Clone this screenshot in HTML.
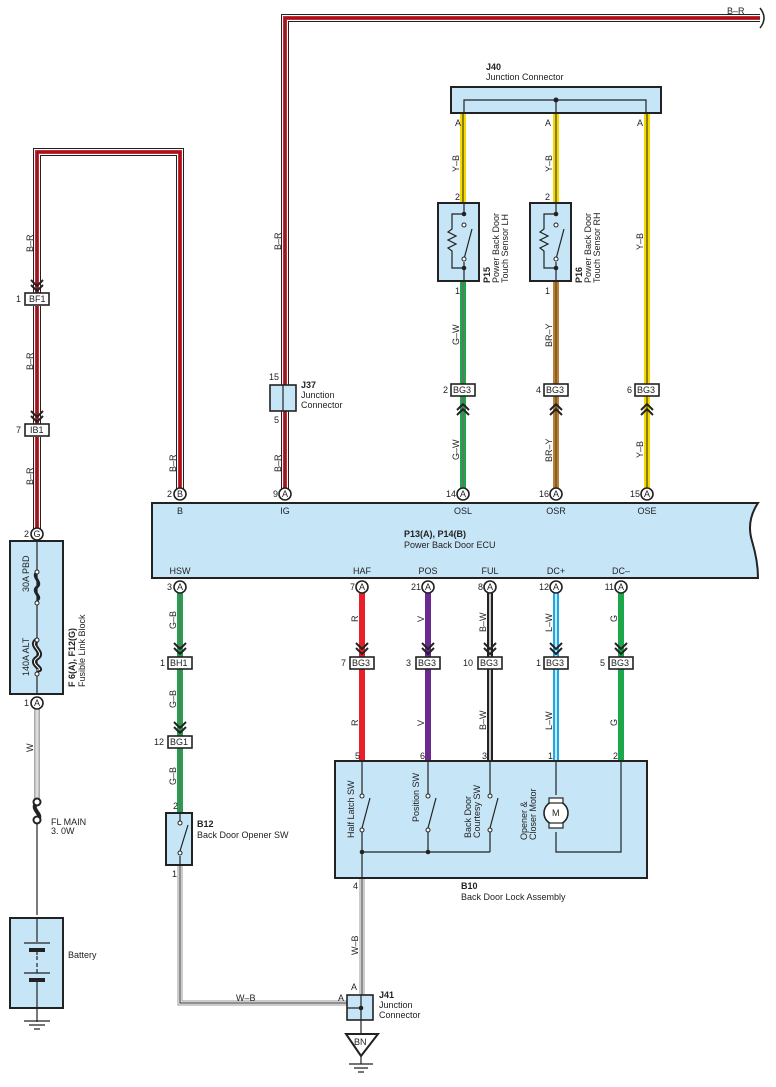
<!DOCTYPE html>
<html><head><meta charset="utf-8"><style>
html,body{margin:0;padding:0;background:#fff}
svg{display:block}
text{font-family:"Liberation Sans",sans-serif;font-size:9px;fill:#222}
.b{font-weight:bold}
.box{fill:#c6e6f8;stroke:#222;stroke-width:2}
.cn{fill:#fff;stroke:#222;stroke-width:1.6}
.ln{fill:none;stroke:#222;stroke-width:1.2}
.e{fill:none;stroke:#222;stroke-width:8}
.w{fill:none;stroke:#fff;stroke-width:6}
.c3{fill:none;stroke-width:4}
.c6{fill:none;stroke-width:6}
.k{fill:none;stroke:#222;stroke-width:1}
.s{fill:none;stroke-width:1.5}
.ch{fill:none;stroke:#222;stroke-width:2}
</style></head><body>
<svg width="776" height="1087" viewBox="0 0 776 1087" xmlns="http://www.w3.org/2000/svg">
<defs>
<path id="w1" d="M37,299 V152 H180 V494"/>
<path id="w1b" d="M37,306 V430"/>
<path id="w1c" d="M37,437 V530"/>
<path id="w2" d="M285,494 V18 H760"/>
<path id="wyl" d="M463,113 V205"/>
<path id="wyr" d="M556,113 V205"/>
<path id="wye" d="M647,113 V490"/>
<path id="wgl" d="M463,281 V490"/>
<path id="wbr" d="M556,281 V490"/>
<path id="whsw" d="M180,591 V813"/>
<path id="wr" d="M362,591 V761"/>
<path id="wv" d="M428,591 V761"/>
<path id="wbw" d="M490,591 V761"/>
<path id="wl" d="M556,591 V761"/>
<path id="wg" d="M621,591 V761"/>
</defs>
<g>
<use href="#w1" class="e"/><use href="#w1" class="w"/><use href="#w1" class="c3" stroke="#e8202a"/><use href="#w1" class="k"/>
<use href="#w1b" class="e"/><use href="#w1b" class="w"/><use href="#w1b" class="c3" stroke="#e8202a"/><use href="#w1b" class="k"/>
<use href="#w1c" class="e"/><use href="#w1c" class="w"/><use href="#w1c" class="c3" stroke="#e8202a"/><use href="#w1c" class="k"/>
<use href="#w2" class="e"/><use href="#w2" class="w"/><use href="#w2" class="c3" stroke="#e8202a"/><use href="#w2" class="k"/>
</g>
<path d="M760,8 q8,10 0,20" fill="none" stroke="#222" stroke-width="1.5"/>
<text x="727" y="14">B–R</text>
<g>
<use href="#wyl" class="c6" stroke="#f5d800"/><use href="#wyl" class="k"/>
<use href="#wyr" class="c6" stroke="#f5d800"/><use href="#wyr" class="k"/>
<use href="#wye" class="c6" stroke="#f5d800"/><use href="#wye" class="k"/>
<use href="#wgl" class="c6" stroke="#1aa84a"/><use href="#wgl" class="s" stroke="#fff"/><use href="#wgl" class="k"/>
<use href="#wbr" class="c6" stroke="#c07a3a"/><use href="#wbr" class="s" stroke="#f5d800"/><use href="#wbr" class="k"/>
<use href="#whsw" class="c6" stroke="#1aa84a"/><use href="#whsw" class="s" stroke="#fff"/><use href="#whsw" class="k"/>
<use href="#wr" class="c6" stroke="#e8202a"/>
<use href="#wv" class="c6" stroke="#6a2a90"/>
<use href="#wbw" class="c6" stroke="#222"/><use href="#wbw" class="s" stroke="#fff"/>
<use href="#wl" class="c6" stroke="#1ea8e6"/><use href="#wl" class="s" stroke="#fff"/>
<use href="#wg" class="c6" stroke="#1aa84a"/>
</g>
<path d="M180,865 V1003 H347" fill="none" stroke="#999" stroke-width="5"/>
<path d="M180,865 V1003 H347" fill="none" stroke="#fff" stroke-width="3"/>
<path d="M180,865 V1003 H347" class="k"/>
<path d="M362,878 V995" fill="none" stroke="#999" stroke-width="5"/>
<path d="M362,878 V995" fill="none" stroke="#fff" stroke-width="3"/>
<path d="M362,878 V995" class="k"/>
<path d="M37,707 V800" fill="none" stroke="#aaa" stroke-width="6"/>
<path d="M37,707 V800" fill="none" stroke="#ddd" stroke-width="3"/>
<path d="M37,822 V915 M37,1008 V1022" class="ln"/>
<g class="ch">
<path d="M31,280 l6,6 6,-6 M31,285 l6,6 6,-6"/>
<path d="M31,411 l6,6 6,-6 M31,416 l6,6 6,-6"/>
<path d="M174,643 l6,6 6,-6 M174,648 l6,6 6,-6"/>
<path d="M174,722 l6,6 6,-6 M174,727 l6,6 6,-6"/>
<path d="M356,643 l6,6 6,-6 M356,648 l6,6 6,-6"/>
<path d="M422,643 l6,6 6,-6 M422,648 l6,6 6,-6"/>
<path d="M484,643 l6,6 6,-6 M484,648 l6,6 6,-6"/>
<path d="M550,643 l6,6 6,-6 M550,648 l6,6 6,-6"/>
<path d="M615,643 l6,6 6,-6 M615,648 l6,6 6,-6"/>
<path d="M457,410 l6,-6 6,6 M457,415 l6,-6 6,6"/>
<path d="M550,410 l6,-6 6,6 M550,415 l6,-6 6,6"/>
<path d="M641,410 l6,-6 6,6 M641,415 l6,-6 6,6"/>
</g>
<g>
<rect x="25" y="293" width="24" height="12" class="cn"/><text x="29" y="302">BF1</text><text x="16" y="302">1</text>
<rect x="25" y="424" width="24" height="12" class="cn"/><text x="30" y="433">IB1</text><text x="16" y="433">7</text>
<rect x="451" y="384" width="24" height="12" class="cn"/><text x="453" y="393">BG3</text><text x="443" y="393">2</text>
<rect x="544" y="384" width="24" height="12" class="cn"/><text x="546" y="393">BG3</text><text x="536" y="393">4</text>
<rect x="635" y="384" width="24" height="12" class="cn"/><text x="637" y="393">BG3</text><text x="627" y="393">6</text>
<rect x="168" y="657" width="24" height="12" class="cn"/><text x="170" y="666">BH1</text><text x="160" y="666">1</text>
<rect x="168" y="736" width="24" height="12" class="cn"/><text x="170" y="745">BG1</text><text x="154" y="745">12</text>
<rect x="350" y="657" width="24" height="12" class="cn"/><text x="352" y="666">BG3</text><text x="341" y="666">7</text>
<rect x="416" y="657" width="24" height="12" class="cn"/><text x="418" y="666">BG3</text><text x="406" y="666">3</text>
<rect x="478" y="657" width="24" height="12" class="cn"/><text x="480" y="666">BG3</text><text x="463" y="666">10</text>
<rect x="544" y="657" width="24" height="12" class="cn"/><text x="546" y="666">BG3</text><text x="536" y="666">1</text>
<rect x="609" y="657" width="24" height="12" class="cn"/><text x="611" y="666">BG3</text><text x="600" y="666">5</text>
</g>
<path d="M152,503 H758 q-12,18 -6,38 q6,20 6,37 H152 Z" class="box"/>
<g class="cn">
<circle cx="180" cy="494" r="6"/><circle cx="285" cy="494" r="6"/><circle cx="463" cy="494" r="6"/><circle cx="556" cy="494" r="6"/><circle cx="647" cy="494" r="6"/>
<circle cx="180" cy="587" r="6"/><circle cx="362" cy="587" r="6"/><circle cx="428" cy="587" r="6"/><circle cx="490" cy="587" r="6"/><circle cx="556" cy="587" r="6"/><circle cx="621" cy="587" r="6"/>
<circle cx="37" cy="534" r="6"/><circle cx="37" cy="703" r="6"/>
</g>
<g text-anchor="middle">
<text x="180" y="497">B</text><text x="285" y="497">A</text><text x="463" y="497">A</text><text x="556" y="497">A</text><text x="647" y="497">A</text>
<text x="180" y="590">A</text><text x="362" y="590">A</text><text x="428" y="590">A</text><text x="490" y="590">A</text><text x="556" y="590">A</text><text x="621" y="590">A</text>
<text x="37" y="537">G</text><text x="37" y="706">A</text>
<text x="180" y="514">B</text><text x="285" y="514">IG</text><text x="463" y="514">OSL</text><text x="556" y="514">OSR</text><text x="647" y="514">OSE</text>
<text x="180" y="574">HSW</text><text x="362" y="574">HAF</text><text x="428" y="574">POS</text><text x="490" y="574">FUL</text><text x="556" y="574">DC+</text><text x="621" y="574">DC–</text>
</g>
<g text-anchor="end">
<text x="172" y="497">2</text><text x="278" y="497">9</text><text x="456" y="497">14</text><text x="549" y="497">16</text><text x="640" y="497">15</text>
<text x="172" y="590">3</text><text x="355" y="590">7</text><text x="421" y="590">21</text><text x="483" y="590">8</text><text x="549" y="590">12</text><text x="614" y="590">11</text>
<text x="29" y="537">2</text><text x="29" y="706">1</text>
</g>
<text x="404" y="537" class="b">P13(A), P14(B)</text>
<text x="404" y="548">Power Back Door ECU</text>
<g>
<text transform="translate(33,252) rotate(-90)">B–R</text>
<text transform="translate(33,370) rotate(-90)">B–R</text>
<text transform="translate(33,485) rotate(-90)">B–R</text>
<text transform="translate(176,472) rotate(-90)">B–R</text>
<text transform="translate(281,250) rotate(-90)">B–R</text>
<text transform="translate(281,472) rotate(-90)">B–R</text>
<text transform="translate(459,172) rotate(-90)">Y–B</text>
<text transform="translate(552,172) rotate(-90)">Y–B</text>
<text transform="translate(643,250) rotate(-90)">Y–B</text>
<text transform="translate(459,345) rotate(-90)">G–W</text>
<text transform="translate(552,347) rotate(-90)">BR–Y</text>
<text transform="translate(459,460) rotate(-90)">G–W</text>
<text transform="translate(552,462) rotate(-90)">BR–Y</text>
<text transform="translate(643,458) rotate(-90)">Y–B</text>
<text transform="translate(176,629) rotate(-90)">G–B</text>
<text transform="translate(176,708) rotate(-90)">G–B</text>
<text transform="translate(176,785) rotate(-90)">G–B</text>
<text transform="translate(358,622) rotate(-90)">R</text>
<text transform="translate(424,622) rotate(-90)">V</text>
<text transform="translate(486,632) rotate(-90)">B–W</text>
<text transform="translate(552,632) rotate(-90)">L–W</text>
<text transform="translate(617,622) rotate(-90)">G</text>
<text transform="translate(358,726) rotate(-90)">R</text>
<text transform="translate(424,726) rotate(-90)">V</text>
<text transform="translate(486,730) rotate(-90)">B–W</text>
<text transform="translate(552,730) rotate(-90)">L–W</text>
<text transform="translate(617,726) rotate(-90)">G</text>
<text transform="translate(33,752) rotate(-90)">W</text>
<text transform="translate(358,955) rotate(-90)">W–B</text>
</g>
<rect x="451" y="87" width="210" height="26" class="box"/>
<path d="M464,113 V100 H646 V113 M556,100 V113" class="ln"/>
<circle cx="556" cy="100" r="2.5" fill="#222"/>
<text x="486" y="70" class="b">J40</text>
<text x="486" y="80">Junction Connector</text>
<text x="455" y="126">A</text><text x="545" y="126">A</text><text x="637" y="126">A</text>
<text x="455" y="200">2</text><text x="545" y="200">2</text>
<text x="455" y="294">1</text><text x="545" y="294">1</text>
<rect x="438" y="203" width="41" height="78" class="box"/>
<rect x="530" y="203" width="41" height="78" class="box"/>
<g class="ln">
<path d="M464,203 V214 M464,214 H452 V229 l-4,3 8,4 -8,4 8,4 -8,4 4,3 V268 H464 V281 M464,259 l8,-30 M464,268 V262"/>
<path d="M556,203 V214 M556,214 H544 V229 l-4,3 8,4 -8,4 8,4 -8,4 4,3 V268 H556 V281 M556,259 l8,-30 M556,268 V262"/>
</g>
<g fill="#fff" stroke="#222" stroke-width="1">
<circle cx="464" cy="225" r="2"/><circle cx="464" cy="259" r="2"/><circle cx="556" cy="225" r="2"/><circle cx="556" cy="259" r="2"/>
</g>
<g fill="#222"><circle cx="464" cy="214" r="2.3"/><circle cx="464" cy="268" r="2.3"/><circle cx="556" cy="214" r="2.3"/><circle cx="556" cy="268" r="2.3"/></g>
<text transform="translate(490,283) rotate(-90)" class="b">P15</text>
<text transform="translate(499,283) rotate(-90)">Power Back Door</text>
<text transform="translate(508,283) rotate(-90)">Touch Sensor LH</text>
<text transform="translate(582,283) rotate(-90)" class="b">P16</text>
<text transform="translate(591,283) rotate(-90)">Power Back Door</text>
<text transform="translate(600,283) rotate(-90)">Touch Sensor RH</text>
<rect x="270" y="385" width="26" height="26" fill="#c6e6f8" stroke="#222" stroke-width="1.6"/>
<path d="M283,385 V411" class="ln"/>
<text x="269" y="380">15</text><text x="274" y="423">5</text>
<text x="301" y="388" class="b">J37</text><text x="301" y="398">Junction</text><text x="301" y="408">Connector</text>
<rect x="10" y="541" width="53" height="153" class="box"/>
<path d="M37,541 V694" class="ln"/>
<path d="M37,572 c-6,5 6,10 0,15 c-6,5 6,10 0,13" fill="none" stroke="#222" stroke-width="3"/>
<path d="M37,640 c-9,6 9,12 0,18 c-9,6 9,12 0,12" fill="none" stroke="#222" stroke-width="5"/>
<path d="M37,640 c-9,6 9,12 0,18 c-9,6 9,12 0,12" fill="none" stroke="#fff" stroke-width="1"/>
<g fill="#fff" stroke="#222" stroke-width="1"><circle cx="37" cy="572" r="2"/><circle cx="37" cy="603" r="2"/><circle cx="37" cy="640" r="2"/><circle cx="37" cy="674" r="2"/></g>
<text transform="translate(29,592) rotate(-90)">30A PBD</text>
<text transform="translate(29,676) rotate(-90)">140A ALT</text>
<text transform="translate(75,687) rotate(-90)" class="b">F 6(A), F12(G)</text>
<text transform="translate(85,687) rotate(-90)">Fusible Link Block</text>
<path d="M37,803 c-8,6 8,12 0,17" fill="none" stroke="#222" stroke-width="4"/>
<circle cx="37" cy="802" r="3.5" fill="#fff" stroke="#222" stroke-width="2"/>
<circle cx="37" cy="820" r="3.5" fill="#fff" stroke="#222" stroke-width="2"/>
<text x="51" y="825">FL MAIN</text><text x="51" y="834">3. 0W</text>
<rect x="10" y="918" width="53" height="90" class="box"/>
<path d="M37,918 V942 M24,943 H50 M37,950 V973 M24,973 H50 M37,980 V1008" stroke="#222" stroke-width="1.2" fill="none"/>
<rect x="29" y="948" width="16" height="4" fill="#222"/><rect x="29" y="978" width="16" height="4" fill="#222"/>
<rect x="33" y="955" width="8" height="14" fill="#c6e6f8"/>
<path d="M37,956 V960 M37,963 V967" stroke="#222" stroke-width="1.2"/>
<text x="68" y="958">Battery</text>
<path d="M24,1021 H50 M29,1025 H45 M34,1029 H40" stroke="#222" stroke-width="1.2"/>
<rect x="166" y="813" width="26" height="52" class="box"/>
<path d="M180,813 V821 M180,856 V865 M180,851 l8,-26" class="ln"/>
<g fill="#fff" stroke="#222" stroke-width="1"><circle cx="180" cy="823" r="2"/><circle cx="180" cy="853" r="2"/></g>
<text x="173" y="809">2</text><text x="172" y="877">1</text>
<text x="197" y="827" class="b">B12</text><text x="197" y="838">Back Door Opener SW</text>
<rect x="335" y="761" width="312" height="117" class="box"/>
<path d="M362,761 V795 M362,830 V878 M428,761 V795 M428,830 V852 M490,761 V795 M490,830 V852 M362,852 H490 M556,761 V795 M556,832 V852 H621 V761" class="ln"/>
<path d="M362,828 l8,-30 M428,828 l8,-30 M490,828 l8,-30" class="ln"/>
<g fill="#fff" stroke="#222" stroke-width="1">
<circle cx="362" cy="796" r="2"/><circle cx="362" cy="830" r="2"/><circle cx="428" cy="796" r="2"/><circle cx="428" cy="830" r="2"/><circle cx="490" cy="796" r="2"/><circle cx="490" cy="830" r="2"/>
</g>
<g fill="#222"><circle cx="362" cy="852" r="2.3"/><circle cx="428" cy="852" r="2.3"/></g>
<circle cx="556" cy="813" r="12" fill="#fff" stroke="#222" stroke-width="1.6"/>
<rect x="549" y="798" width="14" height="5" fill="#fff" stroke="#222" stroke-width="1.2"/>
<rect x="549" y="823" width="14" height="5" fill="#fff" stroke="#222" stroke-width="1.2"/>
<text x="552" y="816">M</text>
<text transform="translate(354,838) rotate(-90)">Half Latch SW</text>
<text transform="translate(419,822) rotate(-90)">Position SW</text>
<text transform="translate(471,838) rotate(-90)">Back Door</text>
<text transform="translate(480,838) rotate(-90)">Courtesy SW</text>
<text transform="translate(527,840) rotate(-90)">Opener &amp;</text>
<text transform="translate(536,840) rotate(-90)">Closer Motor</text>
<text x="355" y="759">5</text><text x="420" y="759">6</text><text x="482" y="759">3</text><text x="548" y="759">1</text><text x="613" y="759">2</text>
<text x="353" y="889">4</text>
<text x="461" y="889" class="b">B10</text><text x="461" y="900">Back Door Lock Assembly</text>
<text x="236" y="1001">W–B</text>
<text x="338" y="1001">A</text><text x="351" y="990">A</text>
<rect x="347" y="995" width="26" height="25" fill="#c6e6f8" stroke="#222" stroke-width="1.6"/>
<path d="M347,1008 H361 M361,995 V1035" class="ln"/>
<circle cx="361" cy="1008" r="2.3" fill="#222"/>
<text x="379" y="998" class="b">J41</text><text x="379" y="1008">Junction</text><text x="379" y="1018">Connector</text>
<path d="M346,1034 H378 L361,1056 Z" fill="#fff" stroke="#222" stroke-width="2"/>
<text x="354" y="1045">BN</text>
<path d="M361,1056 V1064 M349,1064 H373 M354,1068 H368 M358,1072 H364" stroke="#222" stroke-width="1.2"/>
</svg>
</body></html>
